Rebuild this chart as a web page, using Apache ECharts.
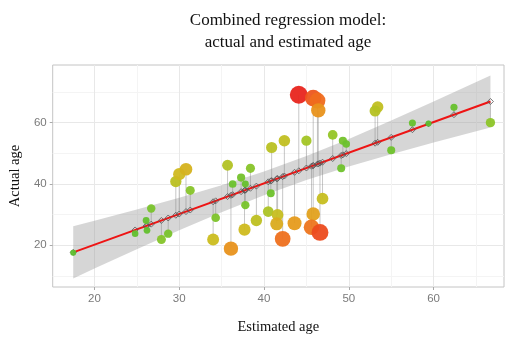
<!DOCTYPE html>
<html>
<head>
<meta charset="utf-8">
<script src="https://cdn.jsdelivr.net/npm/echarts@6/dist/echarts.min.js"></script>
<style>
html, body { margin: 0; padding: 0; background: #fff; }
#chart { width: 508px; height: 340px; }
</style>
</head>
<body>
<div id="chart"></div>
<script>
// one entry per person: estimated age (x) and actual age (y)
const estimated = [17.5, 24.8, 26.1, 26.2, 26.7, 27.9, 28.7, 29.6, 30.0, 30.8,
  31.3, 34.3, 34.0, 35.7, 36.3, 36.1, 37.3, 37.8, 38.4, 37.8,
  37.7, 39.1, 40.9, 40.8, 40.5, 41.6, 41.5, 42.2, 42.4, 43.6,
  44.1, 45.0, 45.8, 46.3, 46.4, 45.8, 45.6, 46.9, 46.6, 48.1,
  49.3, 49.7, 49.1, 53.4, 53.1, 55.0, 57.5, 59.4, 62.4, 66.7];
const actual = [17.6, 23.8, 28.1, 24.9, 32.0, 21.9, 23.8, 40.8, 43.2, 44.8,
  37.9, 29.0, 21.9, 46.1, 40.0, 18.9, 42.1, 40.0, 45.1, 33.1,
  25.1, 28.1, 51.9, 37.0, 31.0, 29.9, 27.0, 22.1, 54.1, 27.2,
  69.1, 54.1, 68.0, 67.2, 64.0, 30.2, 25.9, 35.2, 24.2, 56.0,
  54.1, 53.0, 45.1, 65.1, 63.8, 51.0, 59.9, 59.7, 65.0, 60.0];

// regression line
const fitRange = [17.5, 66.7];
const fitIntercept = 0.2;
const fitSlope = 1.0;

// confidence band around it
const bandX = [17.5, 20, 25, 30, 35, 40, 45, 50, 55, 60, 66.7];
const bandLow = [9.2, 12.4, 18.7, 24.9, 30.8, 36.3, 41.3, 45.7, 49.7, 53.5, 58.4];
const bandHigh = [26.2, 28.0, 31.7, 35.5, 39.6, 44.1, 49.1, 54.7, 60.7, 66.9, 75.4];

const xTicks = [20, 30, 40, 50, 60];
const xMinor = [25, 35, 45, 55, 65];
const yTicks = [20, 40, 60];
const yMinor = [10, 30, 50, 70];

const fit = (x) => fitIntercept + fitSlope * x;

const points = estimated.map((e, i) => [e, actual[i], Math.abs(actual[i] - fit(e))]);
const stems = estimated.map((e, i) => [e, actual[i], fit(e)]);
const onLine = estimated.map((e) => [e, fit(e)]);

const tickFont = { color: "#7a7a7a", fontSize: 11.5, fontFamily: "Liberation Sans" };
const xRange = { min: 15.08, max: 68.3 };
const yRange = { min: 6.4, max: 78.8 };

const chart = echarts.init(document.getElementById("chart"));

chart.setOption({
  animation: false,
  backgroundColor: "#fff",
  graphic: [
    {
      type: "text", x: 288, y: 10,
      style: {
        text: "Combined regression model:\nactual and estimated age",
        textAlign: "center", textVerticalAlign: "top",
        font: '17px "Liberation Serif"', lineHeight: 22, fill: "#111",
      },
    },
  ],
  grid: {
    left: 50, right: 4, top: 65, bottom: 48,
    show: true, borderColor: "#c4c4c4", borderWidth: 1,
  },
  xAxis: [
    {
      type: "value", ...xRange,
      name: "Estimated age", nameLocation: "middle", nameGap: 33,
      nameTextStyle: { fontFamily: "Liberation Serif", fontSize: 14.5, color: "#111" },
      axisLine: { show: false },
      axisTick: { customValues: xTicks, length: 3, lineStyle: { color: "#aaa" } },
      axisLabel: { customValues: xTicks, margin: 6, ...tickFont },
      splitLine: { lineStyle: { color: "#e8e8e8" } },
    },
    {
      type: "value", ...xRange,
      axisLine: { show: false },
      axisTick: { show: false, customValues: xMinor },
      axisLabel: { show: false },
      splitLine: { lineStyle: { color: "#f4f4f4" } },
    },
  ],
  yAxis: [
    {
      type: "value", ...yRange,
      name: "Actual age", nameLocation: "middle", nameGap: 27,
      nameTextStyle: { fontFamily: "Liberation Serif", fontSize: 14.5, color: "#111" },
      axisLine: { show: false },
      axisTick: { customValues: yTicks, length: 3, lineStyle: { color: "#aaa" } },
      axisLabel: { customValues: yTicks, margin: 6, ...tickFont },
      splitLine: { lineStyle: { color: "#e8e8e8" } },
    },
    {
      type: "value", ...yRange,
      axisLine: { show: false },
      axisTick: { show: false, customValues: yMinor },
      axisLabel: { show: false },
      splitLine: { lineStyle: { color: "#f4f4f4" } },
    },
  ],
  visualMap: {
    type: "continuous", show: false, dimension: 2, seriesIndex: 4,
    min: 0, max: 25,
    inRange: {
      color: ["#5cbf2e", "#6fc22c", "#9cc626", "#cdbd1f", "#e69a1c", "#ef6a1e", "#e8221e"],
      symbolSize: [6, 18],
    },
  },
  series: [
    {
      type: "custom", z: 1, silent: true,
      data: [[bandX[0], bandLow[0]]],
      renderItem: (params, api) => {
        const pts = bandX.map((x, i) => api.coord([x, bandHigh[i]]));
        for (let i = bandX.length - 1; i >= 0; i--) pts.push(api.coord([bandX[i], bandLow[i]]));
        return { type: "polygon", shape: { points: pts }, style: { fill: "rgba(153,153,153,0.4)" } };
      },
    },
    {
      type: "custom", z: 2, silent: true,
      data: stems,
      encode: { x: 0, y: 1 },
      renderItem: (params, api) => {
        const a = api.coord([api.value(0), api.value(2)]);
        const b = api.coord([api.value(0), api.value(1)]);
        return {
          type: "line",
          shape: { x1: a[0], y1: a[1], x2: b[0], y2: b[1] },
          style: { stroke: "rgba(130,130,130,0.45)", lineWidth: 1 },
        };
      },
    },
    {
      type: "line", z: 3, silent: true, symbol: "none",
      data: fitRange.map((x) => [x, fit(x)]),
      lineStyle: { color: "#ee1414", width: 2 },
    },
    {
      type: "scatter", z: 4, silent: true,
      symbol: "diamond", symbolSize: 6,
      data: onLine,
      itemStyle: { color: "rgba(0,0,0,0)", borderColor: "#555", borderWidth: 1 },
    },
    {
      type: "scatter", z: 5,
      data: points,
      itemStyle: { opacity: 0.95 },
    },
  ],
});
</script>
</body>
</html>
